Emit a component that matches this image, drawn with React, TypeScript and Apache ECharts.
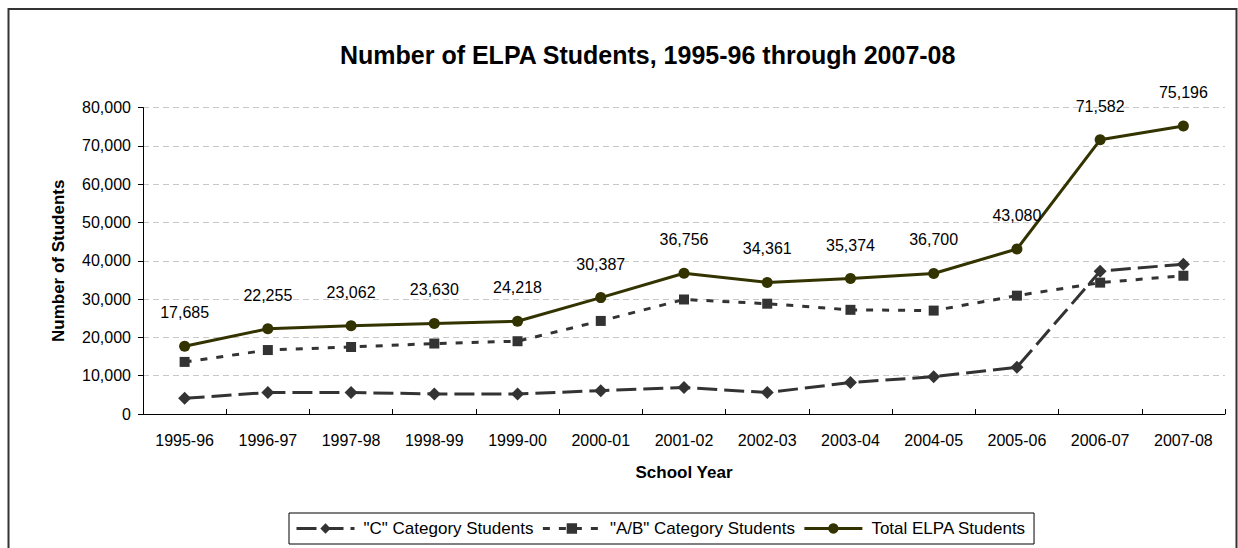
import React, { useEffect, useRef } from "react";
import * as echarts from "echarts";

const years = ["1995-96", "1996-97", "1997-98", "1998-99", "1999-00", "2000-01", "2001-02", "2002-03", "2003-04", "2004-05", "2005-06", "2006-07", "2007-08"];
const cStudents = [4100, 5600, 5600, 5250, 5250, 6100, 6900, 5600, 8200, 9750, 12200, 37300, 39100];
const abStudents = [13600, 16700, 17500, 18400, 19000, 24300, 29900, 28800, 27200, 27000, 30900, 34300, 36100];
const totalStudents = [17685, 22255, 23062, 23630, 24218, 30387, 36756, 34361, 35374, 36700, 43080, 71582, 75196];
const yTicks = [0, 10000, 20000, 30000, 40000, 50000, 60000, 70000, 80000];

const FONT = "'Liberation Sans', Arial, sans-serif";
const fmt = (v: number) => Number(v).toLocaleString("en-US");

export default function App() {
  const ref = useRef<HTMLDivElement>(null);
  useEffect(() => {
    if (!ref.current) return;
    const chart = echarts.init(ref.current, null, { renderer: "svg" });
    chart.setOption({
      animation: false,
      backgroundColor: "#ffffff",
      textStyle: { fontFamily: FONT },
      title: {
        text: "Number of ELPA Students, 1995-96 through 2007-08",
        left: 335,
        top: 37,
        textStyle: { fontFamily: FONT, fontSize: 25, fontWeight: "bold", color: "#000" },
      },
      graphic: [
        {
          type: "rect",
          shape: { x: 8.5, y: 9, width: 1228, height: 560 },
          style: { fill: "none", stroke: "#333", lineWidth: 2 },
          silent: true,
        },
      ],
      legend: {
        left: 289,
        top: 513,
        padding: [7, 8, 7, 6],
        itemGap: 8,
        itemWidth: 58,
        itemHeight: 13,
        borderColor: "#000",
        borderWidth: 1,
        lineStyle: { width: 3 },
        textStyle: { fontFamily: FONT, fontSize: 17, color: "#000", padding: [0, 0, 0, 4] },
        data: ['"C" Category Students', '"A/B" Category Students', "Total ELPA Students"],
      },
      grid: { left: 143, right: 13, top: 107.6, bottom: 134 },
      xAxis: {
        type: "category",
        data: years,
        boundaryGap: true,
        name: "School Year",
        nameLocation: "middle",
        nameGap: 50,
        nameTextStyle: { fontFamily: FONT, fontSize: 17, fontWeight: "bold", color: "#000" },
        axisLine: { lineStyle: { color: "#000", width: 1 } },
        axisTick: { show: true, inside: true, length: 5, lineStyle: { color: "#000" } },
        axisLabel: { margin: 18, fontFamily: FONT, fontSize: 16, color: "#000" },
      },
      yAxis: {
        type: "value",
        min: yTicks[0],
        max: yTicks[yTicks.length - 1],
        interval: yTicks[1] - yTicks[0],
        name: "Number of Students",
        nameLocation: "middle",
        nameGap: 76,
        nameTextStyle: { fontFamily: FONT, fontSize: 17, fontWeight: "bold", color: "#000" },
        axisLine: { show: true, lineStyle: { color: "#000", width: 1 } },
        axisTick: { show: true, length: 5, lineStyle: { color: "#000" } },
        axisLabel: { margin: 12, fontFamily: FONT, fontSize: 16, color: "#000", formatter: (v: number) => fmt(v) },
        splitLine: { show: true, lineStyle: { color: "#c8c8c8", type: [6, 4], width: 1 } },
      },
      series: [
        {
          name: '"C" Category Students',
          type: "line",
          data: cStudents,
          symbol: "diamond",
          symbolSize: 13,
          color: "#333333",
          lineStyle: { color: "#333333", width: 3, type: [20, 7] },
          itemStyle: { color: "#333333" },
          z: 2,
        },
        {
          name: '"A/B" Category Students',
          type: "line",
          data: abStudents,
          symbol: "rect",
          symbolSize: 10,
          color: "#333333",
          lineStyle: { color: "#333333", width: 3, type: [7, 9] },
          itemStyle: { color: "#333333" },
          z: 3,
        },
        {
          name: "Total ELPA Students",
          type: "line",
          data: totalStudents,
          symbol: "circle",
          symbolSize: 11,
          color: "#333300",
          lineStyle: { color: "#333300", width: 3 },
          itemStyle: { color: "#333300" },
          label: {
            show: true,
            position: "top",
            distance: 20,
            fontFamily: FONT,
            fontSize: 16,
            color: "#000",
            formatter: (p: any) => fmt(p.value),
          },
          z: 4,
        },
      ],
    });
    return () => chart.dispose();
  }, []);
  return <div ref={ref} style={{ position: "fixed", left: 0, top: 0, width: 1238, height: 548 }} />;
}
